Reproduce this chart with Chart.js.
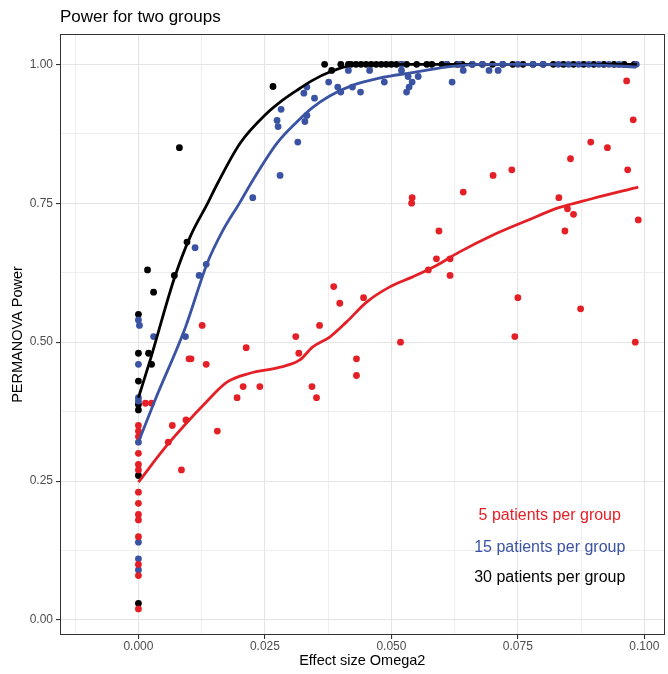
<!DOCTYPE html>
<html>
<head>
<meta charset="utf-8">
<script src="https://cdn.jsdelivr.net/npm/chart.js@4.4.1/dist/chart.umd.min.js"></script>
<style>
html,body{margin:0;padding:0;background:#ffffff;}
#wrap{width:668px;height:674px;}
</style>
</head>
<body>
<div id="wrap"><canvas id="c" width="668" height="674"></canvas></div>
<script>
// ---------- data ----------
const groupLabels = ['5 patients per group', '15 patients per group', '30 patients per group'];

const xTickValues = [0, 0.025, 0.05, 0.075, 0.1];
const xTickLabels = ['0.000', '0.025', '0.050', '0.075', '0.100'];
const yTickValues = [0, 0.25, 0.5, 0.75, 1];
const yTickLabels = ['0.00', '0.25', '0.50', '0.75', '1.00'];
const xMinorValues = [-0.0125, 0.0125, 0.0375, 0.0625, 0.0875];
const yMinorValues = [0.125, 0.375, 0.625, 0.875];

// 5 patients per group (red)
const redX = [0,0,0,0,0,0,0,0,0,0,0,0,0,0,
  0.0014,0.0026,0.0059,0.0067,0.0094,0.0085,0.0156,0.0126,0.0100,0.0104,0.0134,0.0195,0.0207,0.0240,0.0213,
  0.0311,0.0317,0.0343,0.0352,0.0358,0.0386,0.0398,0.0431,0.0431,0.0445,0.0518,0.0540,0.0541,0.0573,0.0589,
  0.0594,0.0616,0.0616,0.0642,0.0701,0.0738,0.0744,0.0750,0.0831,0.0843,0.0848,0.0860,0.0854,0.0874,0.0894,
  0.0927,0.0965,0.0967,0.0978,0.0982,0.0988];
const redY = [0.35,0.34,0.33,0.30,0.28,0.27,0.23,0.21,0.19,0.18,0.15,0.10,0.08,0.02,
  0.39,0.39,0.32,0.35,0.36,0.27,0.34,0.53,0.47,0.47,0.46,0.40,0.42,0.42,0.49,
  0.51,0.48,0.42,0.40,0.53,0.60,0.57,0.47,0.44,0.58,0.50,0.75,0.76,0.63,0.65,
  0.70,0.65,0.62,0.77,0.80,0.81,0.51,0.58,0.76,0.70,0.74,0.73,0.83,0.56,0.86,
  0.85,0.97,0.81,0.90,0.50,0.72];

// 15 patients per group (blue)
const blueX = [0,0.0002,0.0030,0.0093,0,0,0,0,0,0,0,
  0.0112,0.0134,0.0120,0.0226,0.0280,0.0315,0.0276,0.0274,0.0282,0.0329,0.0333,0.0348,0.0327,0.0333,
  0.0376,0.0394,0.0400,0.0415,0.0423,0.0439,0.0457,0.0486,0.0520,0.0520,0.0533,0.0541,0.0535,0.0530,
  0.0553,0.0610,0.0620,0.0634,0.0642,0.0693,0.0711,0.0660,0.0680,0.0720,0.0750,0.0780,0.0800,0.0830,
  0.0850,0.0870,0.0890,0.0910,0.0930,0.0950,0.0984];
const blueY = [0.54,0.53,0.51,0.51,0.46,0.40,0.394,0.32,0.14,0.11,0.09,
  0.67,0.64,0.62,0.76,0.80,0.86,0.888,0.899,0.919,0.897,0.908,0.939,0.948,0.959,
  0.968,0.959,0.950,0.989,0.959,0.950,0.989,0.968,1.0,0.989,0.978,0.968,0.959,0.950,
  0.978,1.0,0.968,1.0,0.989,0.989,0.989,1.0,1.0,1.0,1.0,1.0,1.0,1.0,
  1.0,1.0,1.0,1.0,1.0,1.0,1.0];

// 30 patients per group (black)
const blackX = [0,0,0.0020,0.0026,0,0,0,0,0,0.0018,0.0030,0.0071,0.0096,0.0081,0.0266,0.0368,0.0382,
  0.0400,0.0415,0.0420,0.0430,0.0440,0.0450,0.0460,0.0470,0.0480,0.0490,0.0500,0.0510,0.0520,0.0530,
  0.0550,0.0570,0.0580,0.0600,0.0610,0.0630,0.0640,0.0660,0.0680,0.0700,0.0720,0.0740,0.0760,0.0780,
  0.0800,0.0820,0.0840,0.0860,0.0880,0.0900,0.0920,0.0940,0.0960,0.0980];
const blackY = [0.55,0.48,0.48,0.46,0.43,0.388,0.378,0.26,0.03,0.63,0.59,0.62,0.68,0.85,0.96,1.0,0.989,
  1.0,1.0,1.0,1.0,1.0,1.0,1.0,1.0,1.0,1.0,1.0,1.0,1.0,1.0,
  1.0,1.0,1.0,1.0,1.0,1.0,1.0,1.0,1.0,1.0,1.0,1.0,1.0,1.0,
  1.0,1.0,1.0,1.0,1.0,1.0,1.0,1.0,1.0,1.0];

// smoothed (loess) curves
const redFitX = [0,0.0057,0.0138,0.0175,0.0220,0.0280,0.0319,0.0344,0.0378,0.0411,0.0451,0.0496,0.0541,0.0589,0.0634,0.0699,0.0766,0.0831,0.0896,0.0988];
const redFitY = [0.248,0.315,0.396,0.428,0.444,0.455,0.468,0.491,0.509,0.536,0.572,0.599,0.617,0.638,0.662,0.692,0.718,0.742,0.758,0.779];
const blueFitX = [0,0.0033,0.0093,0.0136,0.0167,0.0201,0.0220,0.0274,0.0313,0.0344,0.0378,0.0423,0.0476,0.0541,0.0608,0.0673,0.0800,0.0900,0.0984];
const blueFitY = [0.32,0.396,0.527,0.642,0.701,0.752,0.782,0.858,0.896,0.922,0.943,0.962,0.975,0.985,0.995,1.0,1.0,0.999,0.995];
const blackFitX = [0,0.0024,0.0071,0.0102,0.0138,0.0156,0.0201,0.0254,0.0280,0.0313,0.0344,0.0378,0.0423,0.0500,0.0600,0.0700,0.0800,0.0900,0.0985];
const blackFitY = [0.40,0.470,0.615,0.689,0.752,0.785,0.858,0.912,0.932,0.953,0.971,0.986,0.998,1.0,1.0,1.0,1.0,1.0,1.0];

// ---------- styles ----------
const RED = '#e41f26';
const BLUE = '#3b53a3';
const BLACK = '#000000';
const groupColors = [RED, BLUE, BLACK];
const FONT = '"Liberation Sans", Arial, Helvetica, sans-serif';

const pts = (xs, ys) => xs.map((x, i) => ({x: x, y: ys[i]}));
const near = (v, list) => list.findIndex(t => Math.abs(t - v) < 1e-9);

const pointDs = (label, xs, ys, color, order) => ({
  label, data: pts(xs, ys), showLine: false, pointRadius: 3.4, pointHoverRadius: 3.4,
  pointBackgroundColor: color, pointBorderWidth: 0, backgroundColor: color, borderColor: color, order
});
const lineDs = (label, xs, ys, color, order) => ({
  label, data: pts(xs, ys), showLine: true, pointRadius: 0, borderColor: color, borderWidth: 2.8,
  tension: 0.4, cubicInterpolationMode: 'monotone', fill: false, order
});

const groupText = {
  id: 'groupText',
  afterDatasetsDraw(chart, args, opts) {
    const {ctx, scales: {x, y}} = chart;
    ctx.save();
    ctx.font = '16px ' + FONT;
    ctx.textAlign = 'center';
    ctx.textBaseline = 'middle';
    groupLabels.forEach((t, i) => {
      ctx.fillStyle = groupColors[i];
      ctx.fillText(t, x.getPixelForValue(opts.x), y.getPixelForValue(opts.y[i]));
    });
    ctx.restore();
  }
};
const panelBorder = {
  id: 'panelBorder',
  afterDraw(chart) {
    const {ctx, chartArea: a} = chart;
    ctx.save();
    ctx.strokeStyle = '#333333';
    ctx.lineWidth = 1;
    ctx.strokeRect(Math.round(a.left) + 0.5, Math.round(a.top) + 0.5, Math.round(a.right - a.left) - 1, Math.round(a.bottom - a.top) - 1);
    ctx.restore();
  }
};

const gridColor = (ctx, major) => near(ctx.tick.value, major) >= 0 ? '#e5e5e5' : '#ececec';
const gridWidth = (ctx, major) => near(ctx.tick.value, major) >= 0 ? 1.1 : 0.9;
const tickColor = (ctx, major) => near(ctx.tick.value, major) >= 0 ? '#333333' : 'rgba(0,0,0,0)';

new Chart(document.getElementById('c'), {
  type: 'scatter',
  data: {
    datasets: [
      lineDs('fit ' + groupLabels[0], redFitX, redFitY, RED, 0),
      lineDs('fit ' + groupLabels[1], blueFitX, blueFitY, BLUE, 1),
      lineDs('fit ' + groupLabels[2], blackFitX, blackFitY, BLACK, 2),
      pointDs(groupLabels[0], redX, redY, RED, 3),
      pointDs(groupLabels[1], blueX, blueY, BLUE, 4),
      pointDs(groupLabels[2], blackX, blackY, BLACK, 5)
    ]
  },
  options: {
    responsive: false,
    animation: false,
    devicePixelRatio: 1,
    events: [],
    layout: {padding: {left: 0, right: 2, top: 0, bottom: 0}},
    plugins: {
      legend: {display: false},
      tooltip: {enabled: false},
      title: {
        display: true, text: 'Power for two groups', align: 'start', fullSize: false,
        color: '#000000', font: {family: FONT, size: 17, weight: 'normal'},
        padding: {top: 7.5, bottom: 6.1}
      },
      groupText: {x: 0.0813, y: [0.187, 0.131, 0.077]}
    },
    scales: {
      x: {
        type: 'linear', min: -0.0155, max: 0.104,
        afterBuildTicks: s => { s.ticks = xTickValues.concat(xMinorValues).sort((a, b) => a - b).map(v => ({value: v})); },
        afterFit: s => { s.height = 39; },
        ticks: {
          autoSkip: false, maxRotation: 0, padding: 0, color: '#4d4d4d',
          font: {family: FONT, size: 12},
          callback: v => { const i = near(v, xTickValues); return i >= 0 ? xTickLabels[i] : ''; }
        },
        grid: {
          color: c => gridColor(c, xTickValues), lineWidth: c => gridWidth(c, xTickValues),
          tickColor: c => tickColor(c, xTickValues), tickLength: 4, tickWidth: 1.1
        },
        border: {display: false},
        title: {display: true, text: 'Effect size Omega2', color: '#000000', font: {family: FONT, size: 14.5}, padding: {top: 0, bottom: 4}}
      },
      y: {
        type: 'linear', min: -0.027, max: 1.0545,
        afterBuildTicks: s => { s.ticks = yTickValues.concat(yMinorValues).sort((a, b) => a - b).map(v => ({value: v})); },
        afterFit: s => { s.width = 60; },
        ticks: {
          autoSkip: false, padding: 3, color: '#4d4d4d',
          font: {family: FONT, size: 12},
          callback: v => { const i = near(v, yTickValues); return i >= 0 ? yTickLabels[i] : ''; }
        },
        grid: {
          color: c => gridColor(c, yTickValues), lineWidth: c => gridWidth(c, yTickValues),
          tickColor: c => tickColor(c, yTickValues), tickLength: 4, tickWidth: 1.1
        },
        border: {display: false},
        title: {display: true, text: 'PERMANOVA Power', color: '#000000', font: {family: FONT, size: 14.5}, padding: {top: 9.5, bottom: 0}}
      }
    }
  },
  plugins: [groupText, panelBorder]
});
</script>
</body>
</html>
